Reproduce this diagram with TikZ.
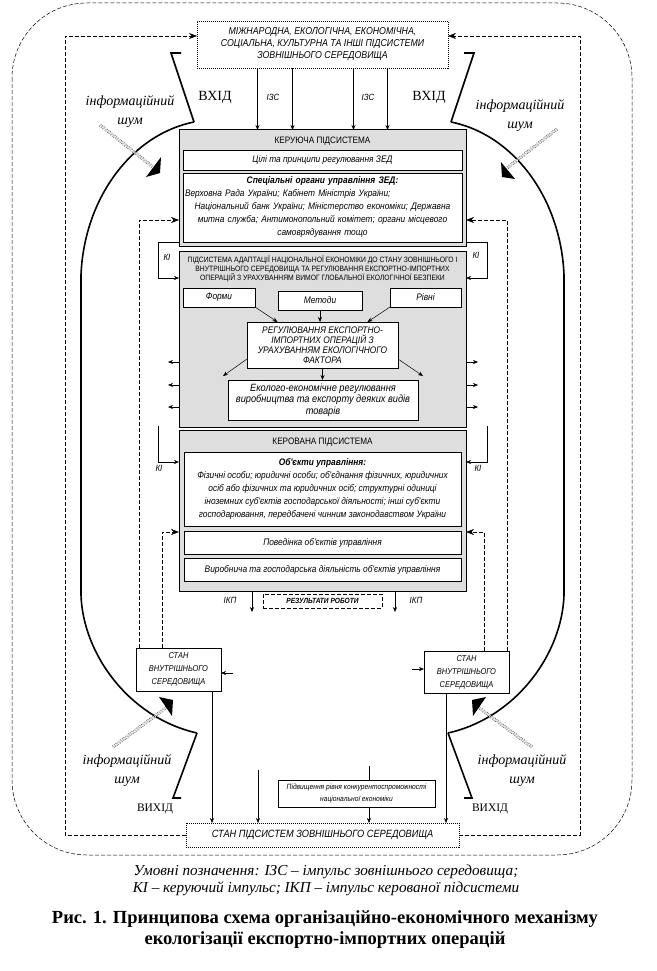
\documentclass[tikz,border=0pt]{standalone}
\usepackage{fontspec}
\setmainfont{Liberation Serif}
\newfontfamily\nar[FakeStretch=0.88]{Liberation Sans}
\usetikzlibrary{arrows.meta}
\tikzset{
  every node/.style={inner sep=0pt, outer sep=0pt},
  gbox/.style={draw, line width=1pt, fill=black!13},
  wbox/.style={draw, line width=0.7pt, fill=white},
  arr/.style={-{Stealth[length=5pt,width=4pt]}, line width=0.5pt},
  arrL/.style={-{Stealth[length=8pt,width=6pt]}, line width=0.5pt},
  dsh/.style={dash pattern=on 4pt off 2pt, line width=0.5pt},
  dotbox/.style={draw, dash pattern=on 1pt off 1pt, line width=0.6pt, fill=white},
  noise/.style={draw, dash pattern=on 0.8pt off 1.2pt, double, double distance=2.2pt, line width=0.35pt},
  thk/.style={line width=1.6pt},
  ttl/.style={font=\nar\fontsize{9.3}{11}\selectfont},
  it/.style={font=\nar\itshape\fontsize{9.5}{12}\selectfont},
  itsm/.style={font=\nar\itshape\fontsize{8.5}{13}\selectfont},
  lbl/.style={font=\nar\itshape\fontsize{9}{11}\selectfont},
  srf/.style={font=\itshape\fontsize{14}{19}\selectfont, align=center},
}
\begin{document}
\begin{tikzpicture}[x=1pt,y=-1pt]
\useasboundingbox (0,0) rectangle (656,971);
% outer rounded frame
\draw[dsh, rounded corners=75pt] (12,3) rectangle (632,855);

% top and bottom boxes
\node[dotbox, minimum width=251pt, minimum height=47pt, align=center,
  font=\nar\itshape\fontsize{10}{12}\selectfont] (top) at (322.5,44.5)
  {МІЖНАРОДНА, ЕКОЛОГІЧНА, ЕКОНОМІЧНА,\\СОЦІАЛЬНА, КУЛЬТУРНА ТА ІНШІ ПІДСИСТЕМИ\\ЗОВНІШНЬОГО СЕРЕДОВИЩА};
\node[dotbox, minimum width=273pt, minimum height=24pt,
  font=\nar\itshape\fontsize{10.5}{12}\selectfont] (bot) at (322.5,835)
  {СТАН ПІДСИСТЕМ ЗОВНІШНЬОГО СЕРЕДОВИЩА};

% box A
\node[gbox, minimum width=287pt, minimum height=116pt] (gA) at (322.5,188) {};
\node[ttl] (gAt) at (322.5,141) {КЕРУЮЧА ПІДСИСТЕМА};
\node[wbox, it, minimum width=279pt, minimum height=20pt] (aims) at (322.5,160) {Цілі та принципи регулювання ЗЕД};
\node[wbox, it, minimum width=279pt, minimum height=69pt, text width=275pt, align=center,
  font=\nar\itshape\fontsize{9.5}{13}\selectfont] (organs) at (322.5,207.5)
  {{\bfseries Спеціальні органи управління ЗЕД:}\\
   \makebox[\linewidth][l]{Верховна Рада України; Кабінет Міністрів України;}\\
   Національний банк України; Міністерство економіки; Державна\\
   митна служба; Антимонопольний комітет; органи місцевого\\
   самоврядування тощо};

% box B
\node[gbox, minimum width=287pt, minimum height=176pt] (gB) at (322.5,339) {};
\node[font=\nar\fontsize{7.7}{9.3}\selectfont, align=center] (gBt) at (322.5,269)
  {ПІДСИСТЕМА АДАПТАЦІЇ НАЦІОНАЛЬНОЇ ЕКОНОМІКИ ДО СТАНУ ЗОВНІШНЬОГО І\\
   ВНУТРІШНЬОГО СЕРЕДОВИЩА ТА РЕГУЛЮВАННЯ ЕКСПОРТНО-ІМПОРТНИХ\\
   ОПЕРАЦІЙ З УРАХУВАННЯМ ВИМОГ ГЛОБАЛЬНОЇ ЕКОЛОГІЧНОЇ БЕЗПЕКИ};
\node[wbox, it, minimum width=72pt, minimum height=19pt] (forms) at (219,297.5) {Форми};
\node[wbox, it, minimum width=84pt, minimum height=19pt] (methods) at (320,300.5) {Методи};
\node[wbox, it, minimum width=71pt, minimum height=19pt] (levels) at (425.5,297.5) {Рівні};
\node[wbox, minimum width=151pt, minimum height=46pt, align=center,
  font=\nar\itshape\fontsize{9.5}{10}\selectfont] (central) at (322.5,345)
  {РЕГУЛЮВАННЯ ЕКСПОРТНО-\\ІМПОРТНИХ ОПЕРАЦІЙ З\\УРАХУВАННЯМ ЕКОЛОГІЧНОГО\\ФАКТОРА};
\node[wbox, minimum width=190pt, minimum height=40pt, align=center,
  font=\nar\itshape\fontsize{10.5}{11.5}\selectfont] (ecoreg) at (323,400)
  {Еколого-економічне регулювання\\виробництва та експорту деяких видів\\товарів};

% box C
\node[gbox, minimum width=287pt, minimum height=161pt] (gC) at (322.5,510.5) {};
\node[ttl] (gCt) at (322.5,442) {КЕРОВАНА ПІДСИСТЕМА};
\node[wbox, minimum width=277pt, minimum height=74pt, align=center,
  font=\nar\itshape\fontsize{9.5}{13}\selectfont] (objects) at (322.5,489)
  {{\bfseries Об'єкти управління:}\\
   Фізичні особи; юридичні особи; об'єднання фізичних, юридичних\\
   осіб або фізичних та юридичних осіб; структурні одиниці\\
   іноземних суб'єктів господарської діяльності; інші суб'єкти\\
   господарювання, передбачені чинним законодавством України};
\node[wbox, it, minimum width=277pt, minimum height=23pt] (behav) at (322.5,542.5) {Поведінка об'єктів управління};
\node[wbox, it, minimum width=277pt, minimum height=23pt] (prod) at (322.5,569.5) {Виробнича та господарська діяльність об'єктів управління};

\node[draw, dsh, minimum width=119pt, minimum height=14pt,
  font=\nar\itshape\bfseries\fontsize{7.5}{9}\selectfont] (res) at (322.5,601) {РЕЗУЛЬТАТИ РОБОТИ};

% state boxes
\node[draw, line width=0.7pt, fill=white, itsm, align=center, minimum width=85pt, minimum height=43pt] (stateL) at (178.5,669.5)
  {СТАН\\ВНУТРІШНЬОГО\\СЕРЕДОВИЩА};
\node[draw, line width=0.7pt, fill=white, itsm, align=center, minimum width=85pt, minimum height=42pt] (stateR) at (466.5,672)
  {СТАН\\ВНУТРІШНЬОГО\\СЕРЕДОВИЩА};
\node[draw, line width=0.7pt, align=center, minimum width=157pt, minimum height=27pt,
  font=\nar\itshape\fontsize{7.6}{12.5}\selectfont] (raise) at (356.5,793.5)
  {Підвищення рівня конкурентоспроможності\\національної економіки};

% inner dashed frame with arrows into top box
\coordinate (iTL) at (65,36);
\coordinate (iTR) at (580,36);
\draw[dsh, arrL] (bot.west) -| (iTL) -- (top.west |- iTL);
\draw[dsh, arrL] (bot.east) -| (iTR) -- (top.east |- iTR);

% IZS arrows
\foreach \dx in {-65,-30,31,65}
  \draw[arr] ([xshift=\dx pt]top.south) -- ([xshift=\dx pt]top.south |- gA.north);

% brackets and arcs
\draw[thk] (181,53) -- (171,53) -- (194,122);
\draw[thk] (464,53) -- (474,53) -- (451,122);
\draw[thk] (197,733) -- (173,798) -- (181,798);
\draw[thk] (448,733) -- (472,798) -- (464,798);
\draw[thk] (194,122) .. controls (130,135) and (84,200) .. (81,275) -- (81,595)
  .. controls (83,655) and (130,718) .. (197,733);
\draw[thk] (451,122) .. controls (515,135) and (561,200) .. (564,275) -- (564,595)
  .. controls (562,655) and (515,718) .. (448,733);

% noise arrows
\draw[noise] (100,125) -- (153,167);
\fill (161,157) -- (146,177) -- (160,173) -- cycle;
\draw[noise] (557,129) -- (507,168);
\fill (501,162) -- (502,177) -- (515,179) -- cycle;
\draw[noise] (113,747) -- (167,707);
\fill (159,697) -- (173,700) -- (172,716) -- cycle;
\draw[noise] (532,747) -- (478,707);
\fill (486,697) -- (472,700) -- (473,716) -- cycle;

% KI loops
\coordinate (kA1) at (158,242); \coordinate (kA2) at (158,278);
\draw[arr] (gA.west |- kA1) -- (kA1) -- (kA2) -- (gB.west |- kA2);
\coordinate (kA3) at (487,242); \coordinate (kA4) at (487,278);
\draw[arr] (gA.east |- kA3) -- (kA3) -- (kA4) -- (gB.east |- kA4);
\coordinate (kC1) at (158,426); \coordinate (kC2) at (158,462);
\draw[arr] (kC1) -- (kC2) -- (gC.west |- kC2);
\coordinate (kC3) at (487,426); \coordinate (kC4) at (487,462);
\draw[arr] (kC3) -- (kC4) -- (gC.east |- kC4);

% dashed feedback from state boxes
\coordinate (fL1) at (139,220); \coordinate (fL2) at (162,532);
\coordinate (fR1) at (507,220); \coordinate (fR2) at (484,532);
\draw[dsh, arrL] (stateL.north -| fL1) -- (fL1) -- (gA.west |- fL1);
\draw[dsh, arrL] (stateL.north -| fL2) -- (fL2) -- (gC.west |- fL2);
\draw[dsh, arrL] (stateR.north -| fR1) -- (fR1) -- (gA.east |- fR1);
\draw[dsh, arrL] (stateR.north -| fR2) -- (fR2) -- (gC.east |- fR2);

% side arrows of box B
\foreach \yy [count=\i] in {362,385,407} {
  \coordinate (oL\i) at (168,\yy); \coordinate (oR\i) at (478,\yy);
  \draw[arr] (gB.west |- oL\i) -- (oL\i);
  \draw[arr] (gB.east |- oR\i) -- (oR\i);
}

% inner arrows of box B
\draw[arr] (forms.south east) -- ([xshift=-45pt]central.north);
\draw[arr] (methods.south) -- (methods.south |- central.north);
\draw[arr] (levels.south west) -- ([xshift=45pt]central.north);
\draw[arr] ([yshift=9pt]central.south west) -- ([shift={(-5pt,4pt)}]ecoreg.north west);
\draw[arr] ([yshift=9pt]central.south east) -- ([shift={(5pt,4pt)}]ecoreg.north east);
\draw[arr] (central.south) -- (central.south |- ecoreg.north);

% IKP arrows
\coordinate (ikL) at (252,612); \coordinate (ikR) at (395,612);
\draw[arr] (gC.south -| ikL) -- (ikL);
\draw[arr] (gC.south -| ikR) -- (ikR);

% small arrows into state boxes
\coordinate (sL) at (233,673); \coordinate (sR) at (412,669);
\draw[arr] (sL) -- (stateL.east |- sL);
\draw[arr] (sR) -- (stateR.west |- sR);

% lower verticals
\coordinate (vL) at (212,0); \coordinate (vR) at (446,0);
\coordinate (vM) at (258,770); \coordinate (vr) at (369,766);
\draw[arr] (stateL.south -| vL) -- (bot.north -| vL);
\draw[arr] (stateR.south -| vR) -- (bot.north -| vR);
\draw[arr] (vM) -- (bot.north -| vM);
\draw (vr) -- (raise.north -| vr);
\draw[arr] (raise.south -| vr) -- (bot.north -| vr);

% labels
\node[lbl] (izs1) at (273,97) {ІЗС};
\node[lbl] (izs2) at (368,97) {ІЗС};
\node[font=\fontsize{14}{16}\selectfont] (inL) at (215,97) {ВХІД};
\node[font=\fontsize{14}{16}\selectfont] (inR) at (429,97) {ВХІД};
\node[font=\fontsize{11.5}{14}\selectfont] (outL) at (155,809) {ВИХІД};
\node[font=\fontsize{11.5}{14}\selectfont] (outR) at (490,809) {ВИХІД};
\node[srf] (nTL) at (130,112) {інформаційний\\шум};
\node[srf] (nTR) at (520,116) {інформаційний\\шум};
\node[srf] (nBL) at (127,771) {інформаційний\\шум};
\node[srf] (nBR) at (522,771) {інформаційний\\шум};
\node[lbl] (ki1) at (167,257) {КІ};
\node[lbl] (ki2) at (476,255) {КІ};
\node[lbl] (ki3) at (159,468) {КІ};
\node[lbl] (ki4) at (478,468) {КІ};
\node[lbl] (ikp1) at (230,600) {ІКП};
\node[lbl] (ikp2) at (416,600) {ІКП};

% legend and caption
\node[font=\itshape\fontsize{15.2}{17}\selectfont, align=center] (legend) at (326,880.5)
  {Умовні позначення: ІЗС – імпульс зовнішнього середовища;\\КІ – керуючий імпульс; ІКП – імпульс керованої підсистеми};
\node[font=\bfseries\fontsize{18.5}{21}\selectfont, align=center] (caption) at (325,930)
  {Рис. 1. Принципова схема організаційно-економічного механізму\\екологізації експортно-імпортних операцій};
\end{tikzpicture}
\end{document}
